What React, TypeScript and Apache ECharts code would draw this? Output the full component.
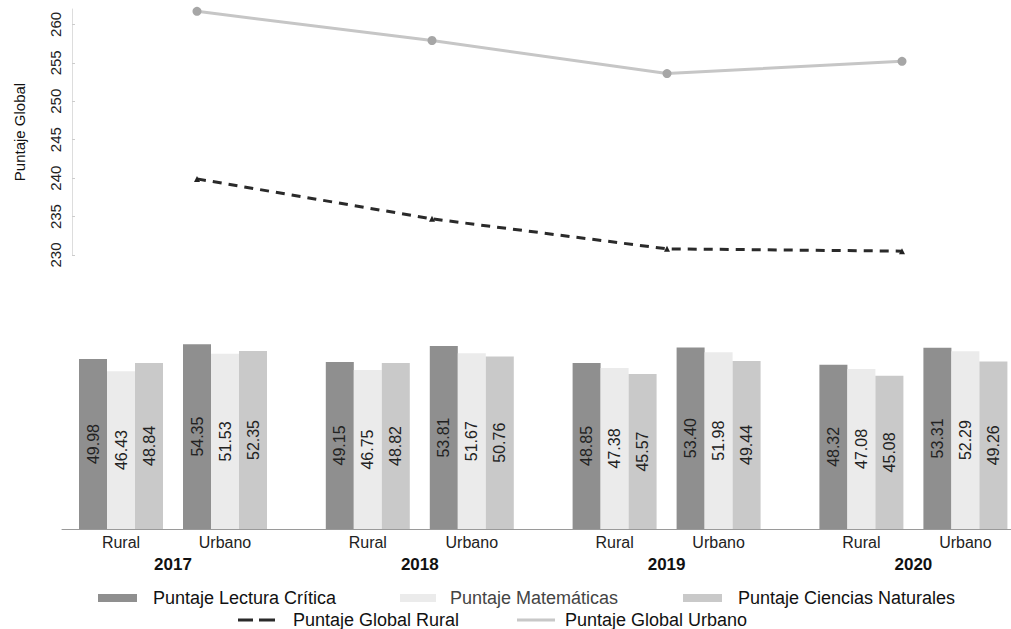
import React, { useEffect, useRef } from "react";
import * as echarts from "echarts";

const years = ["2017", "2018", "2019", "2020"];
const lecturaRural = [49.98, 49.15, 48.85, 48.32];
const matematicasRural = [46.43, 46.75, 47.38, 47.08];
const cienciasRural = [48.84, 48.82, 45.57, 45.08];
const lecturaUrbano = [54.35, 53.81, 53.4, 53.31];
const matematicasUrbano = [51.53, 51.67, 51.98, 52.29];
const cienciasUrbano = [52.35, 50.76, 49.44, 49.26];
const globalRural = [239.9, 234.7, 230.8, 230.5];
const globalUrbano = [261.7, 257.9, 253.6, 255.2];

const FONT = "Liberation Sans, Arial, sans-serif";
const C_LECT = "#8f8f8f";
const C_MATE = "#ebebeb";
const C_CIEN = "#c9c9c9";

const N_LECT = "Puntaje Lectura Crítica";
const N_MATE = "Puntaje Matemáticas";
const N_CIEN = "Puntaje Ciencias Naturales";
const N_RUR = "Puntaje Global Rural";
const N_URB = "Puntaje Global Urbano";

function barSeries(name: string, data: (number | null)[], color: string, width: number, showLabel = true) {
  return {
    type: "bar",
    name,
    xAxisIndex: 1,
    yAxisIndex: 1,
    data,
    barWidth: width,
    barGap: "0%",
    itemStyle: { color },
    label: {
      show: showLabel,
      position: "inside",
      rotate: 90,
      fontSize: 16,
      fontFamily: FONT,
      color: "#222",
      formatter: (p: any) => (p.value == null ? "" : Number(p.value).toFixed(2)),
    },
  };
}

function legendItem(name: string, left: number, top: number, width: number, height: number, pad: number, icon: string, color?: string, textColor = "#111") {
  return {
    show: true,
    left,
    top,
    orient: "horizontal",
    selectedMode: false,
    itemWidth: width,
    itemHeight: height,
    data: [color ? { name, icon, itemStyle: { color } } : { name, icon }],
    textStyle: { fontSize: 18, fontFamily: FONT, color: textColor, padding: [0, 0, 0, pad] },
  };
}

export default function App() {
  const ref = useRef<HTMLDivElement>(null);
  useEffect(() => {
    if (!ref.current) return;
    const chart = echarts.init(ref.current, undefined, { renderer: "svg" });
    const option: any = {
      animation: false,
      backgroundColor: "#ffffff",
      grid: [
        { left: 197, width: 705, top: 9, height: 246, outerBoundsMode: "none", containLabel: false },
        { left: 173, width: 740.4, top: 342, height: 187, outerBoundsMode: "none", containLabel: false },
        { left: 62, right: 0, top: 342, height: 187, outerBoundsMode: "none", containLabel: false },
      ],
      xAxis: [
        { gridIndex: 0, type: "category", boundaryGap: false, data: years, show: false },
        {
          gridIndex: 1,
          type: "category",
          boundaryGap: false,
          data: years,
          axisLine: { show: false },
          axisTick: { show: false },
          axisLabel: {
            interval: 0,
            margin: 2,
            formatter: (v: string) => `{r|Rural}{u|Urbano}\n{y|${v}}`,
            rich: {
              r: { width: 104, align: "center", fontSize: 16, fontFamily: FONT, color: "#222", lineHeight: 22 },
              u: { width: 104, align: "center", fontSize: 16, fontFamily: FONT, color: "#222", lineHeight: 22 },
              y: { fontSize: 17, fontWeight: "bold", fontFamily: FONT, color: "#111", lineHeight: 22 },
            },
          },
        },
        {
          gridIndex: 2,
          type: "value",
          min: 0,
          max: 1,
          axisLine: { show: true, onZero: false, lineStyle: { color: "#9a9a9a", width: 1 } },
          axisTick: { show: false },
          axisLabel: { show: false },
          splitLine: { show: false },
        },
      ],
      yAxis: [
        {
          gridIndex: 0,
          type: "value",
          min: 230,
          max: 262,
          interval: 5,
          offset: 125,
          axisLine: { show: true, lineStyle: { color: "#dddddd" } },
          axisTick: { show: true, inside: true, length: 3, lineStyle: { color: "#cccccc" } },
          splitLine: { show: false },
          axisLabel: { rotate: 90, fontSize: 15, fontFamily: FONT, color: "#222", margin: 9, showMaxLabel: false },
          name: "Puntaje Global",
          nameLocation: "middle",
          nameRotate: 90,
          nameGap: 45,
          nameTextStyle: { fontSize: 15, fontFamily: FONT, color: "#111" },
        },
        { gridIndex: 1, type: "value", min: 0, max: 55, show: false, splitLine: { show: false } },
        { gridIndex: 2, type: "value", min: 0, max: 1, show: false, splitLine: { show: false } },
      ],
      legend: [
        legendItem(N_LECT, 93, 584, 39, 8, 11, "rect"),
        legendItem(N_MATE, 395, 584, 36, 8, 9, "rect", undefined, "#444"),
        legendItem(N_CIEN, 678, 584, 39, 8, 11, "rect"),
        legendItem(N_RUR, 233, 606, 37, 3, 13, "path://M0,0h15v3h-15z M21,0h16v3h-16z", "#2a2a2a"),
        legendItem(N_URB, 512, 606, 38, 3, 5, "rect", "#c8c8c8"),
      ],
      series: [
        {
          type: "line",
          name: N_URB,
          xAxisIndex: 0,
          yAxisIndex: 0,
          data: globalUrbano,
          symbol: "circle",
          symbolSize: 9,
          lineStyle: { color: "#c6c6c6", width: 3 },
          itemStyle: { color: "#a6a6a6" },
        },
        {
          type: "line",
          name: N_RUR,
          xAxisIndex: 0,
          yAxisIndex: 0,
          data: globalRural,
          symbol: "triangle",
          symbolSize: 6,
          lineStyle: { color: "#2a2a2a", width: 3, type: [9, 7] },
          itemStyle: { color: "#222" },
        },
        barSeries(N_LECT, lecturaRural, C_LECT, 28),
        barSeries(N_MATE, matematicasRural, C_MATE, 28),
        barSeries(N_CIEN, cienciasRural, C_CIEN, 28),
        barSeries("_spacer", [null, null, null, null], "rgba(0,0,0,0)", 20, false),
        barSeries(N_LECT, lecturaUrbano, C_LECT, 28),
        barSeries(N_MATE, matematicasUrbano, C_MATE, 28),
        barSeries(N_CIEN, cienciasUrbano, C_CIEN, 28),
      ],
    };
    chart.setOption(option);
    return () => chart.dispose();
  }, []);
  return (
    <div
      ref={ref}
      style={{ position: "fixed", left: 0, top: 0, width: 1011, height: 629, background: "#fff" }}
    />
  );
}
